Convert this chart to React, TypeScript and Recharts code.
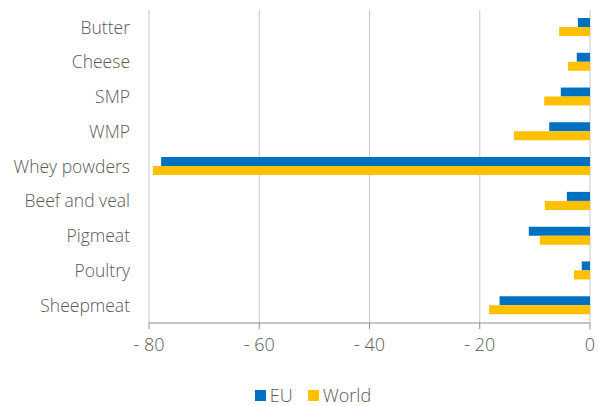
import React from 'react';
import { BarChart, Bar, XAxis, YAxis, CartesianGrid, Legend } from 'recharts';

const categories = ['Butter', 'Cheese', 'SMP', 'WMP', 'Whey powders', 'Beef and veal', 'Pigmeat', 'Poultry', 'Sheepmeat'];
const euValues = [-2.2, -2.4, -5.3, -7.4, -77.8, -4.2, -11.1, -1.5, -16.4];
const worldValues = [-5.6, -4.0, -8.3, -13.8, -79.3, -8.2, -9.1, -2.9, -18.3];
const xTicks = [-80, -60, -40, -20, 0];
const boundaryTicks = [0, 1, 2, 3, 4, 5, 6, 7, 8, 9];

const data = categories.map((name, i) => ({ name, EU: euValues[i], World: worldValues[i] }));

const FONT = '"Open Sans", sans-serif';
const TEXT = '#595959';
const EU_COLOR = '#0070C0';
const WORLD_COLOR = '#FFC000';

const LegendContent = () => (
  <div style={{ display: 'flex', justifyContent: 'center', alignItems: 'center', paddingLeft: 36, paddingTop: 4, height: 22, fontFamily: FONT, fontWeight: 300, fontSize: 18, color: TEXT, lineHeight: '22px' }}>
    <span style={{ display: 'inline-block', width: 11, height: 11, background: EU_COLOR, marginRight: 4 }} />
    <span style={{ marginRight: 15 }}>EU</span>
    <span style={{ display: 'inline-block', width: 11, height: 11, background: WORLD_COLOR, marginRight: 4 }} />
    <span>World</span>
  </div>
);

export default function App() {
  return (
    <div style={{ position: 'absolute', left: 0, top: 0 }}>
      <BarChart
        width={598}
        height={406}
        data={data}
        layout="vertical"
        margin={{ top: 10, right: 8, bottom: 0, left: 0 }}
        barGap={0}
        barSize={9}
      >
        <CartesianGrid horizontal={false} stroke="#C8C8C8" />
        <XAxis
          type="number"
          domain={[-80, 0]}
          ticks={xTicks}
          tickFormatter={(v: number) => (v < 0 ? `- ${Math.abs(v)}` : `${v}`)}
          height={57}
          stroke="#8C8C8C"
          tickSize={6}
          tickMargin={9}
          tick={{ fill: TEXT, fontSize: 18, fontFamily: FONT, fontWeight: 300 }}
        />
        <YAxis
          type="category"
          dataKey="name"
          width={149}
          axisLine={false}
          tickLine={false}
          tickSize={0}
          tickMargin={19}
          tick={{ fill: TEXT, fontSize: 17.5, fontFamily: FONT, fontWeight: 300 }}
        />
        <YAxis
          yAxisId="r"
          type="number"
          orientation="right"
          mirror
          width={0}
          domain={[0, 9]}
          ticks={boundaryTicks}
          tickSize={6}
          tickFormatter={() => ''}
          stroke="#8C8C8C"
        />
        <Legend verticalAlign="bottom" height={26} content={<LegendContent />} />
        <Bar dataKey="EU" fill={EU_COLOR} isAnimationActive={false} />
        <Bar dataKey="World" fill={WORLD_COLOR} isAnimationActive={false} />
      </BarChart>
    </div>
  );
}
